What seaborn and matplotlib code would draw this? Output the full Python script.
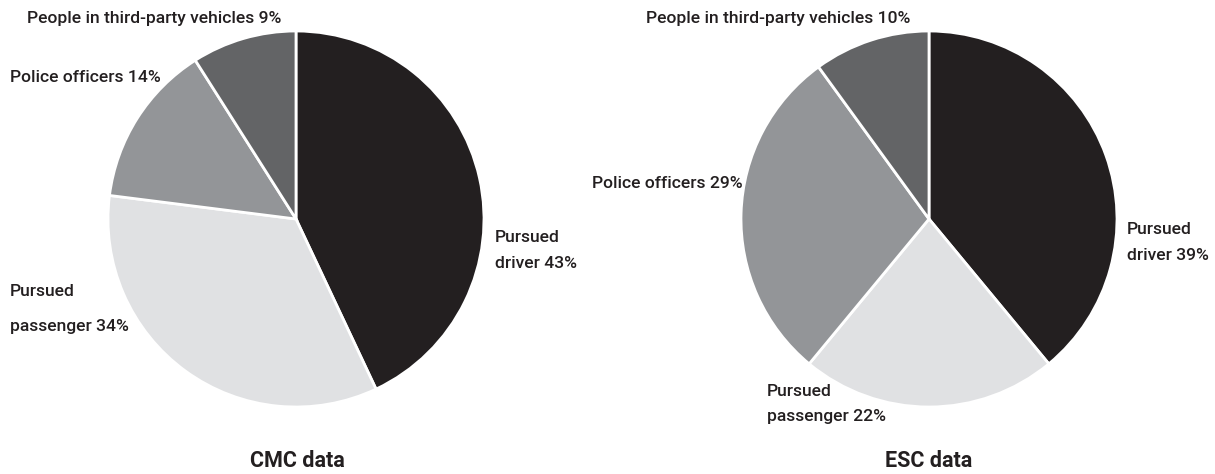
import matplotlib
matplotlib.use("Agg")
import matplotlib.pyplot as plt
import seaborn as sns

sns.set_theme(style="white")
plt.rcParams['font.family'] = ['Roboto', 'DejaVu Sans']

categories = ["Pursued driver", "Pursued passenger", "Police officers", "People in third-party vehicles"]
cmc_values = [43, 34, 14, 9]
esc_values = [39, 22, 29, 10]
titles = ["CMC data", "ESC data"]
colors = ["#231f20", "#e0e1e3", "#939598", "#636466"]

W, H = 1215, 474
fig = plt.figure(figsize=(W / 100, H / 100), dpi=100)

def add_pie(cx, cy, r, values):
    ax = fig.add_axes([(cx - r) / W, (H - cy - r) / H, 2 * r / W, 2 * r / H])
    ax.pie(values, colors=colors, startangle=90, counterclock=False,
           radius=1.0, wedgeprops=dict(edgecolor="white", linewidth=2))
    ax.set_xlim(-1, 1)
    ax.set_ylim(-1, 1)
    ax.set_aspect("equal")
    ax.axis("off")
    return ax

add_pie(296, 219, 188, cmc_values)
add_pie(929, 219, 188, esc_values)

def label(x, y, s, **kw):
    fig.text(x / W, 1 - y / H, s, ha="left", va="center", fontsize=12.6,
             fontweight="medium", color="#231f20", **kw)

def lbl(vals, i):
    return f"{vals[i]}%"

# CMC labels
label(27, 19, f"{categories[3]} {lbl(cmc_values, 3)}")
label(10, 78, f"{categories[2]} {lbl(cmc_values, 2)}")
label(10, 292, "Pursued")
label(10, 326, f"passenger {lbl(cmc_values, 1)}")
label(495, 237, "Pursued")
label(495, 263, f"driver {lbl(cmc_values, 0)}")

# ESC labels
label(646, 19, f"{categories[3]} {lbl(esc_values, 3)}")
label(592, 184, f"{categories[2]} {lbl(esc_values, 2)}")
label(1127, 229, "Pursued")
label(1127, 255, f"driver {lbl(esc_values, 0)}")
label(767, 392, "Pursued")
label(767, 417, f"passenger {lbl(esc_values, 1)}")

for x, t in zip([297, 929], titles):
    fig.text(x / W, 1 - 461 / H, t, ha="center", va="center", fontsize=15.5,
             fontweight="bold", color="#231f20")

fig.savefig("out.png", dpi=100)
